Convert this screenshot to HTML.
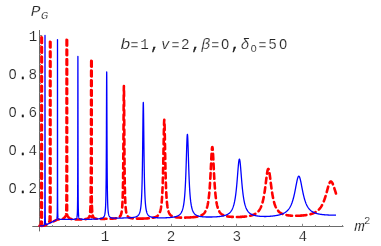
<!DOCTYPE html>
<html><head><meta charset="utf-8"><style>
html,body{margin:0;padding:0;background:#fff;}
svg{display:block;will-change:transform}
text{font-family:"Liberation Mono",monospace;fill:#262626;stroke:#fff;stroke-width:0.2px}
</style></head><body>
<svg width="381" height="246" viewBox="0 0 381 246">
<rect width="381" height="246" fill="#fff"/>
<g stroke="#6a6a6a" stroke-width="1" fill="none">
<line x1="32.3" y1="226.5" x2="343.5" y2="226.5"/>
<line x1="39.5" y1="30" x2="39.5" y2="231.4"/>
<g stroke="#888"><line x1="52.50" y1="226.5" x2="52.50" y2="225.00"/><line x1="65.50" y1="226.5" x2="65.50" y2="225.00"/><line x1="78.50" y1="226.5" x2="78.50" y2="225.00"/><line x1="92.50" y1="226.5" x2="92.50" y2="225.00"/><line x1="105.50" y1="226.5" x2="105.50" y2="223.80"/><line x1="118.50" y1="226.5" x2="118.50" y2="225.00"/><line x1="131.50" y1="226.5" x2="131.50" y2="225.00"/><line x1="144.50" y1="226.5" x2="144.50" y2="225.00"/><line x1="157.50" y1="226.5" x2="157.50" y2="225.00"/><line x1="171.50" y1="226.5" x2="171.50" y2="223.80"/><line x1="184.50" y1="226.5" x2="184.50" y2="225.00"/><line x1="197.50" y1="226.5" x2="197.50" y2="225.00"/><line x1="210.50" y1="226.5" x2="210.50" y2="225.00"/><line x1="223.50" y1="226.5" x2="223.50" y2="225.00"/><line x1="236.50" y1="226.5" x2="236.50" y2="223.80"/><line x1="250.50" y1="226.5" x2="250.50" y2="225.00"/><line x1="263.50" y1="226.5" x2="263.50" y2="225.00"/><line x1="276.50" y1="226.5" x2="276.50" y2="225.00"/><line x1="289.50" y1="226.5" x2="289.50" y2="225.00"/><line x1="302.50" y1="226.5" x2="302.50" y2="223.80"/><line x1="315.50" y1="226.5" x2="315.50" y2="225.00"/><line x1="329.50" y1="226.5" x2="329.50" y2="225.00"/><line x1="342.50" y1="226.5" x2="342.50" y2="225.00"/>
<line x1="39.5" y1="216.50" x2="41.00" y2="216.50"/><line x1="39.5" y1="207.50" x2="41.00" y2="207.50"/><line x1="39.5" y1="197.50" x2="41.00" y2="197.50"/><line x1="39.5" y1="188.50" x2="42.20" y2="188.50"/><line x1="39.5" y1="178.50" x2="41.00" y2="178.50"/><line x1="39.5" y1="169.50" x2="41.00" y2="169.50"/><line x1="39.5" y1="159.50" x2="41.00" y2="159.50"/><line x1="39.5" y1="150.50" x2="42.20" y2="150.50"/><line x1="39.5" y1="140.50" x2="41.00" y2="140.50"/><line x1="39.5" y1="131.50" x2="41.00" y2="131.50"/><line x1="39.5" y1="121.50" x2="41.00" y2="121.50"/><line x1="39.5" y1="111.50" x2="42.20" y2="111.50"/><line x1="39.5" y1="102.50" x2="41.00" y2="102.50"/><line x1="39.5" y1="92.50" x2="41.00" y2="92.50"/><line x1="39.5" y1="83.50" x2="41.00" y2="83.50"/><line x1="39.5" y1="73.50" x2="42.20" y2="73.50"/><line x1="39.5" y1="64.50" x2="41.00" y2="64.50"/><line x1="39.5" y1="54.50" x2="41.00" y2="54.50"/><line x1="39.5" y1="45.50" x2="41.00" y2="45.50"/><line x1="39.5" y1="35.50" x2="42.20" y2="35.50"/></g>
</g>
<path d="M336.00,193.53 L335.75,192.76 L335.50,191.97 L335.25,191.18 L335.00,190.39 L334.75,189.59 L334.50,188.80 L334.25,188.02 L334.00,187.26 L333.80,186.66 L333.75,186.51 L333.70,186.37 L333.65,186.22 L333.60,186.08 L333.55,185.94 L333.50,185.80 L333.45,185.66 L333.40,185.52 L333.35,185.38 L333.30,185.25 L333.25,185.11 L333.20,184.98 L333.15,184.85 L333.10,184.72 L333.05,184.60 L333.00,184.47 L332.95,184.35 L332.90,184.23 L332.85,184.11 L332.80,183.99 L332.75,183.88 L332.70,183.76 L332.65,183.65 L332.60,183.54 L332.55,183.44 L332.50,183.33 L332.45,183.23 L332.40,183.13 L332.35,183.04 L332.30,182.94 L332.25,182.85 L332.20,182.76 L332.15,182.68 L332.10,182.59 L332.05,182.51 L332.00,182.44 L331.95,182.36 L331.90,182.29 L331.85,182.22 L331.80,182.15 L331.75,182.09 L331.70,182.03 L331.65,181.97 L331.60,181.92 L331.55,181.87 L331.50,181.82 L331.45,181.78 L331.40,181.74 L331.35,181.70 L331.30,181.66 L331.25,181.63 L331.20,181.60 L331.15,181.58 L331.10,181.56 L331.05,181.54 L331.00,181.53 L330.95,181.51 L330.90,181.51 L330.85,181.50 L330.80,181.50 L330.75,181.50 L330.70,181.51 L330.65,181.52 L330.60,181.54 L330.55,181.56 L330.50,181.58 L330.45,181.61 L330.40,181.65 L330.35,181.68 L330.30,181.73 L330.25,181.77 L330.20,181.82 L330.15,181.88 L330.10,181.94 L330.05,182.00 L330.00,182.07 L329.95,182.14 L329.90,182.22 L329.85,182.30 L329.80,182.39 L329.75,182.47 L329.70,182.57 L329.65,182.66 L329.60,182.76 L329.55,182.86 L329.50,182.97 L329.45,183.08 L329.40,183.19 L329.35,183.31 L329.30,183.43 L329.25,183.55 L329.20,183.68 L329.15,183.81 L329.10,183.94 L329.05,184.07 L329.00,184.21 L328.95,184.35 L328.90,184.50 L328.85,184.64 L328.80,184.79 L328.75,184.94 L328.70,185.09 L328.65,185.25 L328.60,185.40 L328.55,185.56 L328.50,185.72 L328.45,185.89 L328.40,186.05 L328.35,186.22 L328.30,186.39 L328.25,186.56 L328.20,186.73 L328.15,186.90 L328.10,187.07 L328.05,187.25 L328.00,187.42 L327.95,187.60 L327.90,187.78 L327.85,187.96 L327.80,188.14 L327.75,188.32 L327.50,189.23 L327.25,190.15 L327.00,191.08 L326.75,192.00 L326.50,192.91 L326.25,193.80 L326.00,194.68 L325.75,195.54 L325.50,196.37 L325.25,197.18 L325.00,197.96 L324.75,198.72 L324.50,199.44 L324.25,200.14 L324.00,200.81 L323.75,201.45 L323.50,202.06 L323.25,202.65 L323.00,203.21 L322.75,203.75 L322.50,204.26 L322.25,204.75 L322.00,205.22 L321.75,205.67 L321.50,206.09 L321.25,206.50 L321.00,206.89 L320.75,207.26 L320.50,207.61 L320.25,207.94 L320.00,208.27 L319.75,208.57 L319.50,208.87 L319.25,209.15 L319.00,209.42 L318.75,209.67 L318.50,209.92 L318.25,210.15 L318.00,210.38 L317.75,210.59 L317.50,210.80 L317.25,210.99 L317.00,211.18 L316.75,211.36 L316.50,211.54 L316.25,211.70 L316.00,211.86 L315.75,212.02 L315.50,212.16 L315.25,212.30 L315.00,212.44 L314.75,212.57 L314.50,212.70 L314.25,212.82 L314.00,212.93 L313.75,213.05 L313.50,213.15 L313.25,213.26 L313.00,213.36 L312.75,213.45 L312.50,213.55 L312.25,213.64 L312.00,213.72 L311.75,213.81 L311.50,213.89 L311.25,213.96 L311.00,214.04 L310.75,214.11 L310.50,214.18 L310.25,214.25 L310.00,214.31 L309.75,214.38 L309.50,214.44 L309.25,214.50 L309.00,214.55 L308.75,214.61 L308.50,214.66 L308.25,214.71 L308.00,214.76 L307.75,214.81 L307.50,214.85 L307.25,214.90 L307.00,214.94 L306.75,214.98 L306.50,215.02 L306.25,215.06 L306.00,215.10 L305.75,215.14 L305.50,215.17 L305.25,215.21 L305.00,215.24 L304.75,215.27 L304.50,215.30 L304.25,215.33 L304.00,215.36 L303.75,215.39 L303.50,215.41 L303.25,215.44 L303.00,215.46 L302.75,215.48 L302.50,215.51 L302.25,215.53 L302.00,215.55 M301.75,215.57 L301.50,215.59 L301.25,215.61 L301.00,215.62 L300.75,215.64 L300.50,215.65 L300.25,215.67 L300.00,215.68 L299.75,215.70 L299.50,215.71 L299.25,215.72 L299.00,215.73 L298.75,215.74 L298.50,215.75 L298.25,215.76 L298.00,215.77 L297.75,215.78 L297.50,215.78 L297.25,215.79 L297.00,215.79 L296.75,215.80 L296.50,215.80 L296.25,215.80 L296.00,215.80 L295.75,215.80 L295.50,215.80 L295.25,215.80 L295.00,215.80 L294.75,215.80 L294.50,215.79 L294.25,215.79 L294.00,215.79 L293.75,215.78 L293.50,215.77 L293.25,215.76 L293.00,215.76 L292.75,215.75 L292.50,215.74 L292.25,215.72 L292.00,215.71 L291.75,215.70 L291.50,215.68 L291.25,215.67 L291.00,215.65 L290.75,215.63 L290.50,215.61 L290.25,215.59 L290.00,215.57 L289.75,215.55 L289.50,215.52 L289.25,215.50 L289.00,215.47 L288.75,215.44 L288.50,215.41 L288.25,215.38 L288.00,215.35 L287.75,215.31 L287.50,215.27 L287.25,215.23 L287.00,215.19 L286.75,215.15 L286.50,215.10 L286.25,215.05 L286.00,215.00 L285.75,214.95 L285.50,214.90 L285.25,214.84 L285.00,214.78 L284.75,214.71 L284.50,214.64 L284.25,214.57 L284.00,214.50 L283.75,214.42 L283.50,214.33 L283.25,214.25 L283.00,214.15 L282.75,214.06 L282.50,213.95 L282.25,213.85 L282.00,213.73 L281.75,213.61 L281.50,213.49 L281.25,213.35 L281.00,213.21 L280.75,213.06 L280.50,212.90 L280.25,212.74 L280.00,212.56 L279.75,212.37 L279.50,212.17 L279.25,211.96 L279.00,211.74 L278.75,211.50 L278.50,211.25 L278.25,210.98 L278.00,210.69 L277.75,210.38 L277.50,210.05 L277.25,209.70 L277.00,209.33 L276.75,208.93 L276.50,208.50 L276.25,208.04 L276.00,207.54 L275.75,207.01 L275.50,206.44 L275.25,205.83 L275.00,205.17 L274.75,204.45 L274.50,203.69 L274.25,202.86 L274.00,201.96 L273.75,201.00 L273.50,199.96 L273.25,198.84 L273.00,197.63 L272.75,196.33 L272.50,194.94 L272.25,193.45 L272.00,191.86 L271.75,190.17 L271.50,188.39 L271.30,186.90 L271.25,186.52 L271.20,186.14 L271.15,185.75 L271.10,185.36 L271.05,184.97 L271.00,184.58 L270.95,184.19 L270.90,183.79 L270.85,183.39 L270.80,182.99 L270.75,182.59 L270.70,182.19 L270.65,181.78 L270.60,181.38 L270.55,180.97 L270.50,180.57 L270.45,180.17 L270.40,179.76 L270.35,179.36 L270.30,178.96 L270.25,178.56 L270.20,178.17 L270.15,177.77 L270.10,177.38 L270.05,176.99 L270.00,176.61 L269.95,176.23 L269.90,175.85 L269.85,175.48 L269.80,175.12 L269.75,174.76 L269.70,174.41 L269.65,174.06 L269.60,173.72 L269.55,173.39 L269.50,173.07 L269.45,172.75 L269.40,172.45 L269.35,172.15 L269.30,171.87 L269.25,171.60 L269.20,171.33 L269.15,171.08 L269.10,170.84 L269.05,170.61 L269.00,170.40 L268.95,170.20 L268.90,170.01 L268.85,169.83 L268.80,169.67 L268.75,169.53 L268.70,169.40 L268.65,169.28 L268.60,169.18 L268.55,169.09 L268.50,169.02 L268.45,168.97 L268.40,168.93 L268.35,168.91 L268.30,168.90 L268.25,168.91 L268.20,168.93 L268.15,168.97 L268.10,169.03 L268.05,169.10 L268.00,169.19 L267.95,169.29 L267.90,169.41 L267.85,169.54 L267.80,169.69 L267.75,169.85 L267.70,170.03 L267.65,170.22 L267.60,170.42 L267.55,170.64 L267.50,170.87 L267.45,171.11 L267.40,171.36 L267.35,171.63 L267.30,171.90 L267.25,172.19 L267.20,172.49 L267.15,172.79 L267.10,173.11 L267.05,173.43 L267.00,173.77 L266.95,174.11 L266.90,174.45 L266.85,174.81 L266.80,175.17 L266.75,175.54 L266.70,175.91 L266.65,176.29 L266.60,176.67 L266.55,177.05 L266.50,177.44 L266.45,177.84 L266.40,178.23 L266.35,178.63 L266.30,179.03 L266.25,179.43 L266.20,179.84 L266.15,180.24 L266.10,180.65 L266.05,181.05 L266.00,181.46 L265.95,181.86 L265.90,182.27 L265.85,182.67 L265.80,183.07 L265.75,183.48 L265.70,183.88 L265.65,184.28 L265.60,184.67 L265.55,185.07 L265.50,185.46 L265.45,185.85 L265.40,186.24 L265.35,186.62 L265.30,187.00 L265.25,187.38 L265.00,189.22 L264.75,190.98 L264.50,192.64 L264.25,194.20 L264.00,195.66 L263.75,197.02 L263.50,198.29 L263.25,199.47 L263.00,200.57 L262.75,201.58 L262.50,202.53 L262.25,203.40 L262.00,204.21 L261.75,204.97 L261.50,205.67 L261.25,206.32 L261.00,206.93 L260.75,207.49 L260.50,208.01 L260.25,208.50 L260.00,208.96 L259.75,209.39 L259.50,209.78 L259.25,210.16 L259.00,210.51 L258.75,210.84 L258.50,211.14 L258.25,211.43 L258.00,211.71 L257.75,211.96 L257.50,212.20 L257.25,212.43 L257.00,212.65 L256.75,212.85 L256.50,213.04 L256.25,213.22 L256.00,213.40 L255.75,213.56 L255.50,213.72 L255.25,213.86 L255.00,214.00 L254.75,214.14 L254.50,214.26 L254.25,214.38 L254.00,214.50 L253.75,214.61 L253.50,214.71 L253.25,214.81 L253.00,214.91 L252.75,215.00 L252.50,215.09 L252.25,215.17 L252.00,215.25 L251.75,215.33 L251.50,215.40 L251.25,215.47 L251.00,215.54 L250.75,215.60 L250.50,215.67 L250.25,215.73 L250.00,215.78 L249.75,215.84 L249.50,215.89 L249.25,215.94 L249.00,215.99 L248.75,216.04 L248.50,216.08 L248.25,216.13 L248.00,216.17 L247.75,216.21 L247.50,216.25 L247.25,216.29 L247.00,216.32 L246.75,216.36 L246.50,216.39 L246.25,216.43 L246.00,216.46 L245.75,216.49 L245.50,216.52 L245.25,216.54 L245.00,216.57 L244.75,216.60 L244.50,216.62 L244.25,216.65 L244.00,216.67 L243.75,216.69 L243.50,216.71 L243.25,216.73 L243.00,216.75 L242.75,216.77 M242.50,216.79 L242.25,216.81 L242.00,216.82 L241.75,216.84 L241.50,216.85 L241.25,216.87 L241.00,216.88 L240.75,216.90 L240.50,216.91 L240.25,216.92 L240.00,216.93 L239.75,216.94 L239.50,216.95 L239.25,216.96 L239.00,216.97 L238.75,216.98 L238.50,216.99 L238.25,216.99 L238.00,217.00 L237.75,217.00 L237.50,217.00 L237.25,217.01 L237.00,217.01 L236.75,217.01 L236.50,217.01 L236.25,217.01 L236.00,217.01 L235.75,217.00 L235.50,217.00 L235.25,217.00 L235.00,216.99 L234.75,216.99 L234.50,216.98 L234.25,216.98 L234.00,216.97 L233.75,216.96 L233.50,216.95 L233.25,216.94 L233.00,216.93 L232.75,216.92 L232.50,216.91 L232.25,216.90 L232.00,216.88 L231.75,216.87 L231.50,216.85 L231.25,216.84 L231.00,216.82 L230.75,216.80 L230.50,216.78 L230.25,216.76 L230.00,216.73 L229.75,216.71 L229.50,216.68 L229.25,216.65 L229.00,216.62 L228.75,216.59 L228.50,216.56 L228.25,216.52 L228.00,216.49 L227.75,216.45 L227.50,216.41 L227.25,216.36 L227.00,216.32 L226.75,216.27 L226.50,216.22 L226.25,216.16 L226.00,216.10 L225.75,216.04 L225.50,215.97 L225.25,215.90 L225.00,215.83 L224.75,215.75 L224.50,215.67 L224.25,215.58 L224.00,215.48 L223.75,215.38 L223.50,215.27 L223.25,215.15 L223.00,215.03 L222.75,214.89 L222.50,214.75 L222.25,214.60 L222.00,214.43 L221.75,214.25 L221.50,214.06 L221.25,213.85 L221.00,213.63 L220.75,213.39 L220.50,213.12 L220.25,212.83 L220.00,212.52 L219.75,212.18 L219.50,211.80 L219.25,211.39 L219.00,210.94 L218.75,210.44 L218.50,209.89 L218.25,209.28 L218.00,208.60 L217.75,207.84 L217.50,206.99 L217.25,206.04 L217.00,204.97 L216.75,203.76 L216.50,202.40 L216.25,200.85 L216.00,199.08 L215.75,197.08 L215.50,194.78 L215.30,192.72 L215.25,192.17 L215.20,191.60 L215.15,191.02 L215.10,190.43 L215.05,189.82 L215.00,189.19 L214.95,188.55 L214.90,187.89 L214.85,187.21 L214.80,186.52 L214.75,185.81 L214.70,185.08 L214.65,184.33 L214.60,183.57 L214.55,182.79 L214.50,181.99 L214.45,181.17 L214.40,180.34 L214.35,179.49 L214.30,178.62 L214.25,177.73 L214.20,176.83 L214.15,175.91 L214.10,174.98 L214.05,174.03 L214.00,173.06 L213.95,172.08 L213.90,171.09 L213.85,170.09 L213.80,169.08 L213.75,168.06 L213.70,167.04 L213.65,166.01 L213.60,164.98 L213.55,163.94 L213.50,162.91 L213.45,161.88 L213.40,160.86 L213.35,159.86 L213.30,158.86 L213.25,157.88 L213.20,156.92 L213.15,155.98 L213.10,155.07 L213.05,154.19 L213.00,153.35 L212.95,152.54 L212.90,151.78 L212.85,151.06 L212.80,150.39 L212.75,149.77 L212.70,149.20 L212.65,148.70 L212.60,148.26 L212.55,147.88 L212.50,147.56 L212.45,147.32 L212.40,147.14 L212.35,147.03 L212.30,147.00 L212.25,147.03 L212.20,147.14 L212.15,147.32 L212.10,147.57 L212.05,147.88 L212.00,148.26 L211.95,148.70 L211.90,149.21 L211.85,149.77 L211.80,150.39 L211.75,151.07 L211.70,151.79 L211.65,152.55 L211.60,153.36 L211.55,154.21 L211.50,155.09 L211.45,156.00 L211.40,156.93 L211.35,157.89 L211.30,158.87 L211.25,159.87 L211.20,160.88 L211.15,161.90 L211.10,162.93 L211.05,163.96 L211.00,164.99 L210.95,166.03 L210.90,167.06 L210.85,168.09 L210.80,169.10 L210.75,170.12 L210.70,171.12 L210.65,172.11 L210.60,173.09 L210.55,174.05 L210.50,175.00 L210.45,175.94 L210.40,176.86 L210.35,177.76 L210.30,178.65 L210.25,179.52 L210.20,180.37 L210.15,181.21 L210.10,182.02 L210.05,182.82 L210.00,183.61 L209.95,184.37 L209.90,185.12 L209.85,185.84 L209.80,186.56 L209.75,187.25 L209.70,187.93 L209.65,188.59 L209.60,189.23 L209.55,189.86 L209.50,190.47 L209.45,191.07 L209.40,191.65 L209.35,192.21 L209.30,192.77 L209.25,193.30 L209.00,195.79 L208.75,197.97 L208.50,199.88 L208.25,201.55 L208.00,203.03 L207.75,204.33 L207.50,205.49 L207.25,206.51 L207.00,207.42 L206.75,208.24 L206.50,208.97 L206.25,209.62 L206.00,210.21 L205.75,210.75 L205.50,211.23 L205.25,211.67 L205.00,212.07 L204.75,212.44 L204.50,212.77 L204.25,213.08 L204.00,213.36 L203.75,213.62 L203.50,213.86 L203.25,214.08 L203.00,214.29 L202.75,214.48 L202.50,214.66 L202.25,214.82 L202.00,214.97 L201.75,215.12 L201.50,215.25 L201.25,215.38 L201.00,215.50 L200.75,215.61 L200.50,215.71 L200.25,215.81 L200.00,215.90 L199.75,215.99 L199.50,216.07 L199.25,216.15 L199.00,216.22 L198.75,216.29 L198.50,216.35 L198.25,216.42 L198.00,216.48 L197.75,216.53 L197.50,216.59 L197.25,216.64 L197.00,216.68 L196.75,216.73 L196.50,216.77 L196.25,216.81 L196.00,216.85 L195.75,216.89 L195.50,216.93 L195.25,216.96 L195.00,216.99 L194.75,217.03 L194.50,217.06 L194.25,217.08 L194.00,217.11 L193.75,217.14 L193.50,217.16 L193.25,217.19 L193.00,217.21 L192.75,217.23 L192.50,217.25 L192.25,217.27 L192.00,217.29 L191.75,217.31 L191.50,217.33 L191.25,217.34 L191.00,217.36 M190.75,217.37 L190.50,217.39 L190.25,217.40 L190.00,217.42 L189.75,217.43 L189.50,217.44 L189.25,217.45 L189.00,217.46 L188.75,217.47 L188.50,217.48 L188.25,217.49 L188.00,217.50 L187.75,217.51 L187.50,217.52 L187.25,217.53 L187.00,217.54 L186.75,217.55 L186.50,217.56 L186.25,217.57 L186.00,217.57 L185.75,217.58 L185.50,217.59 L185.25,217.59 L185.00,217.60 L184.75,217.60 L184.50,217.61 L184.25,217.61 L184.00,217.62 L183.75,217.62 L183.50,217.62 L183.25,217.62 L183.00,217.63 L182.75,217.63 L182.50,217.63 L182.25,217.63 L182.00,217.62 L181.75,217.62 L181.50,217.62 L181.25,217.62 L181.00,217.61 L180.75,217.61 L180.50,217.60 L180.25,217.60 L180.00,217.59 L179.75,217.58 L179.50,217.57 L179.25,217.56 L179.00,217.55 L178.75,217.54 L178.50,217.52 L178.25,217.51 L178.00,217.49 L177.75,217.47 L177.50,217.45 L177.25,217.43 L177.00,217.41 L176.75,217.38 L176.50,217.36 L176.25,217.33 L176.00,217.30 L175.75,217.26 L175.50,217.22 L175.25,217.18 L175.00,217.14 L174.75,217.09 L174.50,217.04 L174.25,216.98 L174.00,216.92 L173.75,216.85 L173.50,216.78 L173.25,216.70 L173.00,216.61 L172.75,216.52 L172.50,216.41 L172.25,216.30 L172.00,216.17 L171.75,216.03 L171.50,215.87 L171.25,215.70 L171.00,215.51 L170.75,215.29 L170.50,215.05 L170.25,214.78 L170.00,214.47 L169.75,214.12 L169.50,213.72 L169.25,213.26 L169.00,212.73 L168.75,212.12 L168.50,211.41 L168.25,210.56 L168.00,209.56 L167.75,208.37 L167.50,206.92 L167.30,205.54 L167.25,205.16 L167.20,204.76 L167.15,204.35 L167.10,203.91 L167.05,203.46 L167.00,202.99 L166.95,202.50 L166.90,201.98 L166.85,201.44 L166.80,200.87 L166.75,200.28 L166.70,199.66 L166.65,199.01 L166.60,198.33 L166.55,197.62 L166.50,196.87 L166.45,196.08 L166.40,195.26 L166.35,194.39 L166.30,193.48 L166.25,192.52 L166.20,191.52 L166.15,190.46 L166.10,189.35 L166.05,188.18 L166.00,186.94 L165.95,185.65 L165.90,184.29 L165.85,182.85 L165.80,181.35 L165.75,179.76 L165.70,178.10 L165.65,176.35 L165.60,174.52 L165.55,172.60 L165.50,170.59 L165.45,168.49 L165.40,166.30 L165.35,164.02 L165.30,161.65 L165.25,159.20 L165.20,156.67 L165.15,154.07 L165.10,151.41 L165.05,148.70 L165.00,145.96 L164.95,143.21 L164.90,140.47 L164.85,137.77 L164.80,135.14 L164.75,132.60 L164.70,130.20 L164.65,127.96 L164.60,125.93 L164.55,124.14 L164.50,122.62 L164.45,121.40 L164.40,120.52 L164.35,119.98 L164.30,119.80 L164.25,119.98 L164.20,120.52 L164.15,121.41 L164.10,122.63 L164.05,124.15 L164.00,125.94 L163.95,127.97 L163.90,130.21 L163.85,132.62 L163.80,135.16 L163.75,137.80 L163.70,140.50 L163.65,143.24 L163.60,145.99 L163.55,148.73 L163.50,151.44 L163.45,154.11 L163.40,156.71 L163.35,159.24 L163.30,161.69 L163.25,164.07 L163.20,166.35 L163.15,168.54 L163.10,170.64 L163.05,172.66 L163.00,174.58 L162.95,176.41 L162.90,178.16 L162.85,179.83 L162.80,181.41 L162.75,182.92 L162.70,184.35 L162.65,185.72 L162.60,187.02 L162.55,188.25 L162.50,189.42 L162.45,190.54 L162.40,191.60 L162.35,192.61 L162.30,193.56 L162.25,194.48 L162.20,195.35 L162.15,196.17 L162.10,196.96 L162.05,197.71 L162.00,198.43 L161.95,199.11 L161.90,199.76 L161.85,200.39 L161.80,200.98 L161.75,201.55 L161.70,202.09 L161.65,202.61 L161.60,203.10 L161.55,203.58 L161.50,204.03 L161.45,204.47 L161.40,204.89 L161.35,205.29 L161.30,205.67 L161.25,206.04 L161.00,207.67 L160.75,209.02 L160.50,210.15 L160.25,211.09 L160.00,211.89 L159.75,212.57 L159.50,213.16 L159.25,213.67 L159.00,214.11 L158.75,214.50 L158.50,214.84 L158.25,215.15 L158.00,215.42 L157.75,215.66 L157.50,215.88 L157.25,216.07 L157.00,216.25 L156.75,216.41 L156.50,216.55 L156.25,216.69 L156.00,216.81 L155.75,216.92 L155.50,217.03 L155.25,217.12 L155.00,217.21 L154.75,217.29 L154.50,217.37 L154.25,217.44 L154.00,217.51 L153.75,217.57 L153.50,217.62 L153.25,217.68 L153.00,217.73 L152.75,217.78 L152.50,217.82 L152.25,217.87 L152.00,217.91 L151.75,217.94 L151.50,217.98 L151.25,218.01 L151.00,218.05 L150.75,218.08 L150.50,218.11 L150.25,218.14 L150.00,218.16 L149.75,218.19 L149.50,218.21 L149.25,218.24 L149.00,218.26 L148.75,218.28 L148.50,218.30 L148.25,218.32 L148.00,218.34 L147.75,218.36 L147.50,218.37 L147.25,218.39 L147.00,218.41 L146.75,218.42 L146.50,218.44 L146.25,218.45 L146.00,218.46 L145.75,218.48 L145.50,218.49 L145.25,218.50 L145.00,218.51 L144.75,218.53 L144.50,218.54 L144.25,218.55 L144.00,218.56 L143.75,218.57 L143.50,218.58 L143.25,218.59 L143.00,218.59 L142.75,218.60 M142.50,218.60 L142.25,218.61 L142.00,218.61 L141.75,218.61 L141.50,218.62 L141.25,218.62 L141.00,218.62 L140.75,218.62 L140.50,218.62 L140.25,218.62 L140.00,218.62 L139.75,218.62 L139.50,218.62 L139.25,218.62 L139.00,218.62 L138.75,218.62 L138.50,218.62 L138.25,218.62 L138.00,218.61 L137.75,218.61 L137.50,218.61 L137.25,218.60 L137.00,218.60 L136.75,218.59 L136.50,218.59 L136.25,218.58 L136.00,218.57 L135.75,218.56 L135.50,218.56 L135.25,218.55 L135.00,218.54 L134.75,218.52 L134.50,218.51 L134.25,218.50 L134.00,218.48 L133.75,218.47 L133.50,218.45 L133.25,218.43 L133.00,218.41 L132.75,218.38 L132.50,218.36 L132.25,218.33 L132.00,218.30 L131.75,218.26 L131.50,218.22 L131.25,218.18 L131.00,218.13 L130.75,218.08 L130.50,218.02 L130.25,217.95 L130.00,217.87 L129.75,217.79 L129.50,217.69 L129.25,217.58 L129.00,217.45 L128.75,217.30 L128.50,217.13 L128.25,216.93 L128.00,216.68 L127.75,216.39 L127.50,216.04 L127.25,215.61 L127.00,215.08 L126.90,214.83 L126.85,214.70 L126.80,214.55 L126.75,214.41 L126.70,214.25 L126.65,214.09 L126.60,213.91 L126.55,213.73 L126.50,213.54 L126.45,213.33 L126.40,213.12 L126.35,212.89 L126.30,212.65 L126.25,212.40 L126.20,212.13 L126.15,211.84 L126.10,211.53 L126.05,211.20 L126.00,210.86 L125.95,210.48 L125.90,210.09 L125.85,209.66 L125.80,209.20 L125.75,208.71 L125.70,208.19 L125.65,207.62 L125.60,207.00 L125.55,206.34 L125.50,205.62 L125.45,204.85 L125.40,204.00 L125.35,203.08 L125.30,202.07 L125.25,200.98 L125.20,199.77 L125.15,198.45 L125.10,197.00 L125.05,195.40 L125.00,193.63 L124.95,191.67 L124.90,189.49 L124.85,187.08 L124.80,184.39 L124.75,181.39 L124.70,178.04 L124.65,174.30 L124.60,170.12 L124.55,165.46 L124.50,160.27 L124.45,154.53 L124.40,148.20 L124.35,141.30 L124.30,133.87 L124.25,126.03 L124.20,117.96 L124.15,109.95 L124.10,102.39 L124.05,95.74 L124.00,90.51 L123.95,87.15 L123.90,85.99 L123.85,87.15 L123.80,90.51 L123.75,95.74 L123.70,102.39 L123.65,109.95 L123.60,117.96 L123.55,126.03 L123.50,133.87 L123.45,141.30 L123.40,148.20 L123.35,154.53 L123.30,160.28 L123.25,165.46 L123.20,170.12 L123.15,174.30 L123.10,178.04 L123.05,181.39 L123.00,184.39 L122.95,187.08 L122.90,189.50 L122.85,191.67 L122.80,193.63 L122.75,195.40 L122.70,197.01 L122.65,198.46 L122.60,199.78 L122.55,200.98 L122.50,202.08 L122.45,203.09 L122.40,204.01 L122.35,204.85 L122.30,205.63 L122.25,206.35 L122.20,207.01 L122.15,207.63 L122.10,208.20 L122.05,208.72 L122.00,209.21 L121.95,209.67 L121.90,210.10 L121.85,210.50 L121.80,210.87 L121.75,211.22 L121.70,211.54 L121.65,211.85 L121.60,212.14 L121.55,212.41 L121.50,212.67 L121.45,212.91 L121.40,213.13 L121.35,213.35 L121.30,213.55 L121.25,213.75 L121.20,213.93 L121.15,214.10 L121.10,214.27 L121.05,214.42 L121.00,214.57 L120.95,214.71 L120.90,214.85 L120.75,215.22 L120.50,215.73 L120.25,216.14 L120.00,216.48 L119.75,216.76 L119.50,217.00 L119.25,217.19 L119.00,217.36 L118.75,217.51 L118.50,217.64 L118.25,217.75 L118.00,217.84 L117.75,217.93 L117.50,218.00 L117.25,218.07 L117.00,218.13 L116.75,218.18 L116.50,218.23 L116.25,218.28 L116.00,218.32 L115.75,218.35 L115.50,218.39 L115.25,218.42 L115.00,218.44 L114.75,218.47 L114.50,218.49 L114.25,218.51 L114.00,218.53 L113.75,218.55 L113.50,218.57 L113.25,218.59 L113.00,218.60 L112.75,218.61 L112.50,218.63 L112.25,218.64 L112.00,218.65 L111.75,218.66 L111.50,218.67 L111.25,218.68 L111.00,218.69 L110.75,218.69 L110.50,218.70 L110.25,218.71 L110.00,218.72 L109.75,218.72 L109.50,218.73 L109.25,218.73 L109.00,218.74 L108.75,218.74 L108.50,218.75 L108.25,218.75 L108.00,218.75 L107.75,218.76 L107.50,218.76 L107.25,218.76 L107.00,218.76 L106.75,218.77 L106.50,218.78 L106.25,218.79 L106.00,218.80 L105.75,218.81 L105.50,218.82 L105.25,218.82 L105.00,218.83 L104.75,218.84 L104.50,218.84 L104.25,218.85 L104.00,218.86 L103.75,218.86 L103.50,218.87 L103.25,218.88 L103.00,218.88 L102.75,218.89 L102.50,218.89 L102.25,218.90 L102.00,218.90 L101.75,218.90 L101.50,218.91 L101.25,218.91 L101.00,218.91 L100.75,218.91 L100.50,218.91 L100.25,218.91 L100.00,218.91 L99.75,218.91 L99.50,218.91 L99.25,218.91 L99.00,218.90 L98.75,218.90 L98.50,218.89 L98.25,218.88 L98.00,218.87 L97.75,218.86 L97.50,218.84 L97.25,218.82 L97.00,218.80 L96.75,218.78 L96.50,218.75 L96.25,218.71 L96.00,218.67 L95.75,218.62 L95.50,218.57 L95.25,218.50 L95.00,218.41 L94.75,218.31 L94.50,218.18 L94.25,218.03 L94.20,217.99 L94.15,217.95 L94.10,217.91 L94.05,217.87 L94.00,217.83 L93.95,217.78 L93.90,217.73 L93.85,217.68 L93.80,217.63 L93.75,217.58 L93.70,217.52 L93.65,217.46 L93.60,217.39 L93.55,217.32 L93.50,217.25 L93.45,217.17 L93.40,217.09 L93.35,217.00 L93.30,216.91 L93.25,216.81 L93.20,216.71 L93.15,216.60 L93.10,216.48 L93.05,216.35 L93.00,216.21 L92.95,216.07 L92.90,215.91 L92.85,215.74 L92.80,215.56 L92.75,215.36 L92.70,215.14 L92.65,214.91 L92.60,214.65 L92.55,214.37 L92.50,214.07 L92.45,213.73 L92.40,213.35 L92.35,212.93 L92.30,212.46 L92.25,211.94 L92.20,211.34 L92.15,210.66 L92.10,209.88 L92.05,208.98 L92.00,207.93 L91.95,206.69 L91.90,205.22 L91.85,203.45 L91.80,201.29 L91.75,198.62 L91.70,195.28 L91.65,191.03 M91.20,60.91 L91.15,70.06 L91.10,92.03 L91.05,116.94 L91.00,138.74 L90.95,155.84 L90.90,168.72 L90.85,178.33 L90.80,185.55 L90.75,191.05 L90.70,195.31 L90.65,198.65 L90.60,201.32 L90.55,203.48 L90.50,205.26 L90.45,206.73 L90.40,207.97 L90.35,209.03 L90.30,209.93 L90.25,210.71 L90.20,211.39 L90.15,211.99 L90.10,212.52 L90.05,212.99 L90.00,213.42 L89.95,213.79 L89.90,214.14 L89.85,214.45 L89.80,214.73 L89.75,214.99 L89.70,215.23 L89.65,215.44 L89.60,215.64 L89.55,215.83 L89.50,216.00 L89.45,216.16 L89.40,216.31 L89.35,216.45 L89.30,216.58 L89.25,216.70 L89.20,216.82 L89.15,216.92 L89.10,217.02 L89.05,217.12 L89.00,217.21 L88.95,217.29 L88.90,217.37 L88.85,217.45 L88.80,217.52 L88.75,217.59 L88.70,217.65 L88.65,217.72 L88.60,217.77 L88.55,217.83 L88.50,217.88 L88.45,217.93 L88.40,217.98 L88.35,218.03 L88.30,218.07 L88.25,218.11 L88.20,218.15 L88.00,218.30 L87.75,218.45 L87.50,218.57 L87.25,218.68 L87.00,218.77 L86.75,218.84 L86.50,218.91 L86.25,218.97 L86.00,219.02 L85.75,219.06 L85.50,219.10 L85.25,219.14 L85.00,219.17 L84.75,219.20 L84.50,219.23 L84.25,219.25 L84.00,219.28 L83.75,219.30 L83.50,219.32 L83.25,219.33 L83.00,219.35 L82.75,219.37 L82.50,219.38 L82.25,219.40 L82.00,219.41 L81.75,219.42 L81.50,219.43 L81.25,219.44 L81.00,219.45 L80.75,219.46 L80.50,219.47 L80.25,219.48 L80.00,219.49 L79.75,219.50 L79.50,219.50 L79.25,219.51 L79.00,219.52 L78.75,219.52 L78.50,219.53 L78.25,219.53 L78.00,219.54 L77.75,219.53 L77.50,219.53 L77.25,219.53 L77.00,219.52 L76.75,219.52 L76.50,219.51 L76.25,219.50 L76.00,219.50 L75.75,219.49 L75.50,219.48 L75.25,219.47 L75.00,219.46 L74.75,219.44 L74.50,219.43 L74.25,219.42 L74.00,219.40 L73.75,219.38 L73.50,219.36 L73.25,219.34 L73.00,219.31 L72.75,219.28 L72.50,219.25 L72.25,219.22 L72.00,219.18 L71.75,219.13 L71.50,219.08 L71.25,219.02 L71.00,218.96 L70.75,218.88 L70.50,218.80 L70.25,218.70 L70.00,218.58 L69.75,218.45 L69.60,218.35 L69.55,218.32 L69.50,218.29 L69.45,218.25 L69.40,218.22 L69.35,218.18 L69.30,218.15 L69.25,218.11 L69.20,218.07 L69.15,218.03 L69.10,217.98 L69.05,217.94 L69.00,217.89 L68.95,217.85 L68.90,217.80 L68.85,217.75 L68.80,217.70 L68.75,217.64 L68.70,217.59 L68.65,217.53 L68.60,217.47 L68.55,217.41 L68.50,217.35 L68.45,217.29 L68.40,217.22 L68.35,217.15 L68.30,217.08 L68.25,217.01 L68.20,216.94 L68.15,216.86 L68.10,216.78 L68.05,216.70 L68.00,216.62 L67.95,216.53 L67.90,216.44 L67.85,216.35 L67.80,216.25 L67.75,216.15 L67.70,216.04 L67.65,215.93 L67.60,215.82 L67.55,215.69 L67.50,215.56 L67.45,215.42 L67.40,215.26 L67.35,215.09 L67.30,214.89 L67.25,214.66 L67.20,214.39 L67.15,214.07 L67.10,213.66 L67.05,213.13 L67.00,212.41 M66.60,39.79 L66.55,119.37 L66.50,174.76 L66.45,194.73 L66.40,203.21 L66.35,207.47 L66.30,209.89 L66.25,211.40 L66.20,212.41 L66.15,213.13 L66.10,213.66 L66.05,214.07 L66.00,214.39 L65.95,214.66 L65.90,214.89 L65.85,215.09 L65.80,215.26 L65.75,215.42 L65.70,215.56 L65.65,215.69 L65.60,215.82 L65.55,215.94 L65.50,216.05 L65.45,216.15 L65.40,216.25 L65.35,216.35 L65.30,216.44 L65.25,216.53 L65.20,216.62 L65.15,216.70 L65.10,216.78 L65.05,216.86 L65.00,216.94 L64.95,217.01 L64.90,217.09 L64.85,217.16 L64.80,217.22 L64.75,217.29 L64.70,217.35 L64.65,217.42 L64.60,217.48 L64.55,217.53 L64.50,217.59 L64.45,217.65 L64.40,217.70 L64.35,217.75 L64.30,217.80 L64.25,217.85 L64.20,217.90 L64.15,217.94 L64.10,217.98 L64.05,218.03 L64.00,218.07 L63.95,218.11 L63.90,218.15 L63.85,218.19 L63.80,218.22 L63.75,218.26 L63.70,218.29 L63.65,218.33 L63.60,218.36 L63.50,218.42 L63.25,218.56 L63.00,218.68 L62.75,218.78 L62.50,218.87 L62.25,218.95 L62.00,219.02 L61.75,219.07 L61.50,219.13 L61.25,219.17 L61.00,219.22 L60.75,219.25 L60.50,219.28 L60.25,219.31 L60.00,219.34 L59.75,219.36 L59.50,219.39 L59.25,219.41 L59.00,219.42 L58.75,219.44 L58.50,219.45 L58.25,219.47 L58.00,219.48 L57.75,219.49 L57.50,219.50 L57.25,219.63 L57.00,219.75 L56.75,219.87 L56.50,219.99 L56.25,220.12 L56.00,220.24 L55.75,220.36 L55.50,220.48 L55.25,220.60 L55.00,220.71 L54.75,220.83 L54.50,220.95 L54.25,221.07 L54.00,221.18 L53.75,221.30 L53.50,221.41 L53.25,221.52 L53.00,221.63 L52.95,221.66 L52.90,221.68 L52.85,221.70 L52.80,221.72 L52.75,221.74 L52.70,221.76 L52.65,221.79 L52.60,221.81 L52.55,221.83 L52.50,221.85 L52.45,221.87 L52.40,221.89 L52.35,221.91 L52.30,221.93 L52.25,221.95 L52.20,221.97 L52.15,221.99 L52.10,222.01 L52.05,222.02 L52.00,222.04 L51.95,222.06 L51.90,222.08 L51.85,222.09 L51.80,222.11 L51.75,222.13 L51.70,222.14 L51.65,222.15 L51.60,222.17 L51.55,222.18 L51.50,222.19 L51.45,222.20 L51.40,222.21 L51.35,222.21 L51.30,222.22 L51.25,222.22 L51.20,222.22 L51.15,222.21 L51.10,222.20 L51.05,222.19 L51.00,222.17 L50.95,222.15 L50.90,222.11 L50.85,222.07 L50.80,222.01 L50.75,221.94 L50.70,221.84 L50.65,221.72 L50.60,221.56 L50.55,221.35 L50.50,221.06 L50.45,220.67 M50.00,41.74 L49.95,132.44 L49.90,186.87 L49.85,205.02 L49.80,212.52 L49.75,216.23 L49.70,218.33 L49.65,219.63 L49.60,220.49 L49.55,221.09 L49.50,221.53 L49.45,221.86 L49.40,222.12 L49.35,222.33 L49.30,222.50 L49.25,222.64 L49.20,222.76 L49.15,222.86 L49.10,222.95 L49.05,223.03 L49.00,223.10 L48.95,223.17 L48.90,223.23 L48.85,223.28 L48.80,223.33 L48.75,223.38 L48.70,223.43 L48.65,223.47 L48.60,223.51 L48.55,223.55 L48.50,223.59 L48.45,223.62 L48.40,223.66 L48.35,223.69 L48.30,223.72 L48.25,223.75 L48.20,223.79 L48.15,223.82 L48.10,223.85 L48.05,223.88 L48.00,223.90 L47.95,223.93 L47.90,223.96 L47.85,223.99 L47.80,224.02 L47.75,224.04 L47.70,224.07 L47.65,224.10 L47.60,224.12 L47.55,224.15 L47.50,224.18 L47.45,224.20 L47.40,224.23 L47.35,224.25 L47.30,224.28 L47.25,224.30 L47.20,224.33 L47.15,224.35 L47.10,224.38 L47.05,224.40 L47.00,224.43 L46.75,224.55 L46.50,224.67 L46.25,224.79 L46.00,224.91 L45.75,225.02 L45.50,225.14 L45.25,225.25 L45.00,225.37 L44.75,225.48 L44.50,225.59 L44.40,225.63 L44.35,225.65 L44.30,225.67 L44.25,225.69 L44.20,225.72 L44.15,225.74 L44.10,225.76 L44.05,225.78 L44.00,225.80 L43.95,225.80 L43.90,225.80 L43.85,225.79 L43.80,225.79 L43.75,225.79 L43.70,225.78 L43.65,225.78 L43.60,225.78 L43.55,225.77 L43.50,225.77 L43.45,225.76 L43.40,225.76 L43.35,225.75 L43.30,225.75 L43.25,225.74 L43.20,225.73 L43.15,225.73 L43.10,225.72 L43.05,225.71 L43.00,225.70 L42.95,225.69 L42.90,225.67 L42.85,225.66 L42.80,225.64 L42.75,225.62 L42.70,225.61 L42.65,225.58 L42.60,225.56 L42.55,225.53 L42.50,225.50 L42.45,225.46 L42.40,225.42 L42.35,225.37 L42.30,225.31 L42.25,225.24 L42.20,225.15 L42.15,225.05 L42.10,224.93 L42.05,224.78 L42.00,224.59 L41.95,224.34 L41.90,224.02 L41.85,223.59 M41.40,37.27 L41.35,131.58 L41.30,188.17 L41.25,207.03 L41.20,214.80 L41.15,218.64 L41.10,220.80 L41.05,222.13 L41.00,223.00 L40.95,223.60 L40.90,224.03 L40.85,224.35 L40.80,224.60 L40.75,224.79 L40.70,224.94 L40.65,225.07 L40.60,225.17 L40.55,225.25 L40.50,225.32 L40.45,225.38 L40.40,225.43 L40.35,225.48 L40.30,225.52 L40.25,225.55 L40.20,225.58 L40.15,225.60 L40.10,225.63 L40.05,225.65 L40.00,225.67 L39.95,225.68 L39.90,225.70 L39.85,225.71 L39.80,225.72 L39.75,225.74 L39.70,225.75 L39.65,225.76 L39.60,225.76 L39.55,225.77 L39.50,225.78 M41.90,37.47 L41.90,225.96 M50.50,41.94 L50.50,222.93 M67.10,39.99 L67.10,215.85 M91.70,61.11 L91.70,216.88 " fill="none" stroke="#f00" stroke-width="2.6" stroke-dasharray="5.6 4.1" stroke-linecap="round" stroke-linejoin="round"/>
<path d="M39.50,225.93 L39.75,225.93 L40.00,225.93 L40.25,225.92 L40.50,225.92 L40.75,225.92 L41.00,225.91 L41.25,225.90 L41.50,225.90 L41.75,225.89 L42.00,225.88 L42.05,225.88 L42.10,225.88 L42.15,225.88 L42.20,225.87 L42.25,225.87 L42.30,225.87 L42.35,225.87 L42.40,225.86 L42.45,225.86 L42.50,225.86 L42.55,225.85 L42.60,225.85 L42.65,225.85 L42.70,225.84 L42.75,225.84 L42.80,225.83 L42.85,225.83 L42.90,225.82 L42.95,225.82 L43.00,225.81 L43.05,225.80 L43.10,225.80 L43.15,225.79 L43.20,225.78 L43.25,225.77 L43.30,225.76 L43.35,225.75 L43.40,225.74 L43.45,225.73 L43.50,225.72 L43.55,225.70 L43.60,225.68 L43.65,225.67 L43.70,225.64 L43.75,225.62 L43.80,225.60 L43.85,225.57 L43.90,225.53 L43.95,225.49 L44.00,225.45 L44.05,225.38 L44.10,225.29 L44.15,225.20 L44.20,225.09 L44.25,224.96 L44.30,224.82 L44.35,224.64 L44.40,224.42 L44.45,224.15 L44.50,223.80 L44.55,223.34 L44.60,222.71 L44.65,221.81 L44.70,220.45 L44.75,218.26 L44.80,214.37 L44.85,206.52 L44.90,187.50 L44.95,130.50 L45.00,35.50 L45.05,130.45 L45.10,187.41 L45.15,206.38 L45.20,214.17 L45.25,218.02 L45.30,220.16 L45.35,221.47 L45.40,222.33 L45.45,222.91 L45.50,223.32 L45.55,223.62 L45.60,223.84 L45.65,224.01 L45.70,224.14 L45.75,224.24 L45.80,224.32 L45.85,224.38 L45.90,224.42 L45.95,224.46 L46.00,224.49 L46.05,224.51 L46.10,224.52 L46.15,224.53 L46.20,224.53 L46.25,224.54 L46.30,224.54 L46.35,224.53 L46.40,224.53 L46.45,224.52 L46.50,224.51 L46.55,224.50 L46.60,224.49 L46.65,224.47 L46.70,224.46 L46.75,224.44 L46.80,224.43 L46.85,224.41 L46.90,224.40 L46.95,224.38 L47.00,224.36 L47.05,224.34 L47.10,224.32 L47.15,224.30 L47.20,224.28 L47.25,224.26 L47.30,224.24 L47.35,224.22 L47.40,224.20 L47.45,224.18 L47.50,224.16 L47.55,224.14 L47.60,224.12 L47.65,224.10 L47.70,224.08 L47.75,224.05 L47.80,224.03 L47.85,224.01 L47.90,223.99 L47.95,223.97 L48.00,223.94 L48.25,223.83 L48.50,223.72 L48.75,223.60 L49.00,223.48 L49.25,223.37 L49.50,223.25 L49.75,223.13 L50.00,223.01 L50.25,222.89 L50.50,222.77 L50.75,222.65 L51.00,222.53 L51.25,222.41 L51.50,222.29 L51.75,222.17 L52.00,222.05 L52.25,221.93 L52.50,221.81 L52.75,221.69 L53.00,221.56 L53.25,221.44 L53.50,221.32 L53.75,221.20 L54.00,221.07 L54.25,220.94 L54.50,220.82 L54.55,220.79 L54.60,220.77 L54.65,220.74 L54.70,220.71 L54.75,220.69 L54.80,220.66 L54.85,220.63 L54.90,220.61 L54.95,220.58 L55.00,220.55 L55.05,220.53 L55.10,220.50 L55.15,220.47 L55.20,220.45 L55.25,220.42 L55.30,220.39 L55.35,220.36 L55.40,220.33 L55.45,220.30 L55.50,220.27 L55.55,220.24 L55.60,220.21 L55.65,220.18 L55.70,220.15 L55.75,220.12 L55.80,220.09 L55.85,220.05 L55.90,220.02 L55.95,219.98 L56.00,219.95 L56.05,219.91 L56.10,219.87 L56.15,219.83 L56.20,219.78 L56.25,219.74 L56.30,219.69 L56.35,219.64 L56.40,219.58 L56.45,219.52 L56.50,219.46 L56.55,219.38 L56.60,219.30 L56.65,219.21 L56.70,219.11 L56.75,218.99 L56.80,218.85 L56.85,218.68 L56.90,218.47 L56.95,218.21 L57.00,217.88 L57.05,217.45 L57.10,216.85 L57.15,216.00 L57.20,214.71 L57.25,212.63 L57.30,208.94 L57.35,201.51 L57.40,183.51 L57.45,129.54 L57.50,39.60 L57.55,129.51 L57.60,183.46 L57.65,201.44 L57.70,208.85 L57.75,212.51 L57.80,214.56 L57.85,215.83 L57.90,216.66 L57.95,217.23 L58.00,217.64 L58.05,217.95 L58.10,218.18 L58.15,218.37 L58.20,218.51 L58.25,218.63 L58.30,218.72 L58.35,218.80 L58.40,218.87 L58.45,218.93 L58.50,218.97 L58.55,219.02 L58.60,219.05 L58.65,219.08 L58.70,219.11 L58.75,219.14 L58.80,219.16 L58.85,219.18 L58.90,219.19 L58.95,219.21 L59.00,219.22 L59.05,219.24 L59.10,219.25 L59.15,219.26 L59.20,219.27 L59.25,219.27 L59.30,219.28 L59.35,219.29 L59.40,219.30 L59.45,219.30 L59.50,219.31 L59.55,219.31 L59.60,219.32 L59.65,219.32 L59.70,219.33 L59.75,219.33 L59.80,219.34 L59.85,219.34 L59.90,219.34 L59.95,219.35 L60.00,219.35 L60.05,219.35 L60.10,219.35 L60.15,219.36 L60.20,219.36 L60.25,219.36 L60.30,219.36 L60.35,219.36 L60.40,219.37 L60.45,219.37 L60.50,219.37 L60.75,219.38 L61.00,219.38 L61.25,219.39 L61.50,219.39 L61.75,219.39 L62.00,219.39 L62.25,219.40 L62.50,219.40 L62.75,219.40 L63.00,219.40 L63.25,219.40 L63.50,219.40 L63.75,219.40 L64.00,219.40 L64.25,219.40 L64.50,219.40 L64.75,219.40 L65.00,219.40 L65.25,219.40 L65.50,219.40 L65.75,219.40 L66.00,219.40 L66.25,219.40 L66.50,219.40 L66.75,219.39 L67.00,219.39 L67.25,219.39 L67.50,219.39 L67.75,219.39 L68.00,219.39 L68.25,219.39 L68.50,219.39 L68.75,219.38 L69.00,219.38 L69.25,219.38 L69.50,219.38 L69.75,219.38 L70.00,219.37 L70.25,219.37 L70.50,219.37 L70.75,219.36 L71.00,219.36 L71.25,219.36 L71.50,219.35 L71.75,219.35 L72.00,219.34 L72.25,219.34 L72.50,219.33 L72.75,219.32 L73.00,219.32 L73.25,219.31 L73.50,219.29 L73.75,219.28 L74.00,219.26 L74.25,219.25 L74.50,219.22 L74.75,219.19 L74.90,219.17 L74.95,219.16 L75.00,219.16 L75.05,219.15 L75.10,219.14 L75.15,219.13 L75.20,219.12 L75.25,219.11 L75.30,219.10 L75.35,219.09 L75.40,219.07 L75.45,219.06 L75.50,219.05 L75.55,219.03 L75.60,219.02 L75.65,219.00 L75.70,218.98 L75.75,218.96 L75.80,218.94 L75.85,218.92 L75.90,218.90 L75.95,218.87 L76.00,218.84 L76.05,218.81 L76.10,218.78 L76.15,218.74 L76.20,218.71 L76.25,218.66 L76.30,218.62 L76.35,218.57 L76.40,218.51 L76.45,218.45 L76.50,218.38 L76.55,218.31 L76.60,218.22 L76.65,218.13 L76.70,218.02 L76.75,217.90 L76.80,217.76 L76.85,217.61 L76.90,217.43 L76.95,217.22 L77.00,216.97 L77.05,216.69 L77.10,216.34 L77.15,215.93 L77.20,215.44 L77.25,214.82 L77.30,214.06 L77.35,213.08 L77.40,211.82 L77.45,210.15 L77.50,207.87 L77.55,204.66 L77.60,199.97 L77.65,192.83 L77.70,181.37 L77.75,162.19 L77.80,129.95 L77.85,84.25 L77.90,56.50 L77.95,84.25 L78.00,129.95 L78.05,162.19 L78.10,181.37 L78.15,192.82 L78.20,199.97 L78.25,204.66 L78.30,207.86 L78.35,210.14 L78.40,211.82 L78.45,213.08 L78.50,214.05 L78.55,214.82 L78.60,215.43 L78.65,215.93 L78.70,216.34 L78.75,216.68 L78.80,216.97 L78.85,217.21 L78.90,217.42 L78.95,217.60 L79.00,217.76 L79.05,217.89 L79.10,218.01 L79.15,218.12 L79.20,218.21 L79.25,218.30 L79.30,218.37 L79.35,218.44 L79.40,218.50 L79.45,218.56 L79.50,218.61 L79.55,218.65 L79.60,218.69 L79.65,218.73 L79.70,218.77 L79.75,218.80 L79.80,218.83 L79.85,218.86 L79.90,218.88 L79.95,218.90 L80.00,218.93 L80.05,218.95 L80.10,218.97 L80.15,218.98 L80.20,219.00 L80.25,219.02 L80.30,219.03 L80.35,219.04 L80.40,219.06 L80.45,219.07 L80.50,219.08 L80.55,219.09 L80.60,219.10 L80.65,219.11 L80.70,219.12 L80.75,219.13 L80.80,219.14 L80.85,219.14 L80.90,219.15 L81.00,219.17 L81.25,219.19 L81.50,219.22 L81.75,219.23 L82.00,219.25 L82.25,219.26 L82.50,219.27 L82.75,219.28 L83.00,219.29 L83.25,219.29 L83.50,219.30 L83.75,219.30 L84.00,219.30 L84.25,219.31 L84.50,219.31 L84.75,219.31 L85.00,219.31 L85.25,219.31 L85.50,219.31 L85.75,219.31 L86.00,219.32 L86.25,219.32 L86.50,219.32 L86.75,219.32 L87.00,219.31 L87.25,219.31 L87.50,219.31 L87.75,219.31 L88.00,219.31 L88.25,219.31 L88.50,219.31 L88.75,219.31 L89.00,219.31 L89.25,219.31 L89.50,219.30 L89.75,219.30 L90.00,219.30 L90.25,219.29 L90.50,219.28 L90.75,219.27 L91.00,219.26 L91.25,219.25 L91.50,219.24 L91.75,219.23 L92.00,219.22 L92.25,219.20 L92.50,219.19 L92.75,219.18 L93.00,219.17 L93.25,219.16 L93.50,219.15 L93.75,219.13 L94.00,219.12 L94.25,219.11 L94.50,219.09 L94.75,219.08 L95.00,219.07 L95.25,219.05 L95.50,219.04 L95.75,219.02 L96.00,219.01 L96.25,218.99 L96.50,218.98 L96.75,218.96 L97.00,218.94 L97.25,218.92 L97.50,218.90 L97.75,218.88 L98.00,218.86 L98.25,218.84 L98.50,218.82 L98.75,218.79 L99.00,218.77 L99.25,218.74 L99.50,218.71 L99.75,218.67 L100.00,218.64 L100.25,218.60 L100.50,218.56 L100.75,218.51 L101.00,218.46 L101.25,218.40 L101.50,218.34 L101.75,218.27 L102.00,218.18 L102.25,218.09 L102.50,217.98 L102.75,217.85 L103.00,217.69 L103.25,217.50 L103.50,217.27 L103.70,217.04 L103.75,216.97 L103.80,216.91 L103.85,216.84 L103.90,216.76 L103.95,216.68 L104.00,216.60 L104.05,216.52 L104.10,216.42 L104.15,216.33 L104.20,216.22 L104.25,216.12 L104.30,216.00 L104.35,215.88 L104.40,215.75 L104.45,215.61 L104.50,215.46 L104.55,215.31 L104.60,215.14 L104.65,214.96 L104.70,214.77 L104.75,214.56 L104.80,214.34 L104.85,214.10 L104.90,213.84 L104.95,213.55 L105.00,213.25 L105.05,212.92 L105.10,212.56 L105.15,212.16 L105.20,211.73 L105.25,211.26 L105.30,210.74 L105.35,210.16 L105.40,209.52 L105.45,208.82 L105.50,208.03 L105.55,207.14 L105.60,206.15 L105.65,205.03 L105.70,203.76 L105.75,202.32 L105.80,200.66 L105.85,198.77 L105.90,196.57 L105.95,194.03 L106.00,191.05 L106.05,187.56 L106.10,183.44 L106.15,178.56 L106.20,172.76 L106.25,165.86 L106.30,157.65 L106.35,147.97 L106.40,136.70 L106.45,123.92 L106.50,110.08 L106.55,96.16 L106.60,83.82 L106.65,75.15 L106.70,72.00 L106.75,75.14 L106.80,83.81 L106.85,96.15 L106.90,110.06 L106.95,123.90 L107.00,136.67 L107.05,147.94 L107.10,157.62 L107.15,165.83 L107.20,172.73 L107.25,178.52 L107.30,183.40 L107.35,187.51 L107.40,191.00 L107.45,193.97 L107.50,196.51 L107.55,198.70 L107.60,200.60 L107.65,202.24 L107.70,203.68 L107.75,204.95 L107.80,206.07 L107.85,207.06 L107.90,207.94 L107.95,208.72 L108.00,209.43 L108.05,210.06 L108.10,210.63 L108.15,211.15 L108.20,211.62 L108.25,212.05 L108.30,212.44 L108.35,212.79 L108.40,213.12 L108.45,213.42 L108.50,213.70 L108.55,213.96 L108.60,214.19 L108.65,214.41 L108.70,214.61 L108.75,214.80 L108.80,214.98 L108.85,215.14 L108.90,215.30 L108.95,215.44 L109.00,215.58 L109.05,215.70 L109.10,215.82 L109.15,215.93 L109.20,216.04 L109.25,216.13 L109.30,216.23 L109.35,216.32 L109.40,216.40 L109.45,216.48 L109.50,216.55 L109.55,216.62 L109.60,216.69 L109.65,216.75 L109.70,216.81 L109.75,216.87 L110.00,217.12 L110.25,217.31 L110.50,217.47 L110.75,217.59 L111.00,217.70 L111.25,217.78 L111.50,217.86 L111.75,217.92 L112.00,217.97 L112.25,218.01 L112.50,218.04 L112.75,218.07 L113.00,218.10 L113.25,218.12 L113.50,218.14 L113.75,218.15 L114.00,218.16 L114.25,218.17 L114.50,218.18 L114.75,218.19 L115.00,218.19 L115.25,218.20 L115.50,218.20 L115.75,218.20 L116.00,218.20 L116.25,218.20 L116.50,218.20 L116.75,218.20 L117.00,218.19 L117.25,218.19 L117.50,218.19 L117.75,218.18 L118.00,218.18 L118.25,218.17 L118.50,218.16 L118.75,218.16 L119.00,218.15 L119.25,218.14 L119.50,218.14 L119.75,218.13 L120.00,218.12 L120.25,218.11 L120.50,218.10 L120.75,218.09 L121.00,218.09 L121.25,218.08 L121.50,218.07 L121.75,218.06 L122.00,218.05 L122.25,218.03 L122.50,218.02 L122.75,218.01 L123.00,218.00 L123.25,217.99 L123.50,217.98 L123.75,217.97 L124.00,217.95 L124.25,217.94 L124.50,217.93 L124.75,217.91 L125.00,217.90 L125.25,217.90 L125.50,217.89 L125.75,217.89 L126.00,217.88 L126.25,217.88 L126.50,217.87 L126.75,217.86 L127.00,217.86 L127.25,217.85 L127.50,217.84 L127.75,217.84 L128.00,217.83 L128.25,217.82 L128.50,217.81 L128.75,217.80 L129.00,217.79 L129.25,217.78 L129.50,217.76 L129.75,217.75 L130.00,217.74 L130.25,217.72 L130.50,217.70 L130.75,217.69 L131.00,217.67 L131.25,217.65 L131.50,217.63 L131.75,217.61 L132.00,217.58 L132.25,217.56 L132.50,217.53 L132.75,217.50 L133.00,217.47 L133.25,217.43 L133.50,217.40 L133.75,217.36 L134.00,217.31 L134.25,217.27 L134.50,217.22 L134.75,217.16 L135.00,217.10 L135.25,217.03 L135.50,216.96 L135.75,216.88 L136.00,216.79 L136.25,216.69 L136.50,216.58 L136.75,216.46 L137.00,216.32 L137.25,216.17 L137.50,215.99 L137.75,215.80 L138.00,215.57 L138.25,215.31 L138.50,215.02 L138.75,214.67 L139.00,214.26 L139.25,213.78 L139.50,213.21 L139.75,212.52 L140.00,211.68 L140.25,210.64 L140.30,210.40 L140.35,210.15 L140.40,209.89 L140.45,209.62 L140.50,209.33 L140.55,209.04 L140.60,208.72 L140.65,208.39 L140.70,208.04 L140.75,207.68 L140.80,207.29 L140.85,206.89 L140.90,206.46 L140.95,206.01 L141.00,205.53 L141.05,205.03 L141.10,204.49 L141.15,203.93 L141.20,203.33 L141.25,202.70 L141.30,202.02 L141.35,201.30 L141.40,200.54 L141.45,199.73 L141.50,198.86 L141.55,197.94 L141.60,196.95 L141.65,195.89 L141.70,194.76 L141.75,193.56 L141.80,192.26 L141.85,190.87 L141.90,189.38 L141.95,187.78 L142.00,186.05 L142.05,184.20 L142.10,182.21 L142.15,180.07 L142.20,177.76 L142.25,175.28 L142.30,172.61 L142.35,169.75 L142.40,166.68 L142.45,163.40 L142.50,159.90 L142.55,156.17 L142.60,152.22 L142.65,148.07 L142.70,143.73 L142.75,139.24 L142.80,134.63 L142.85,129.98 L142.90,125.35 L142.95,120.84 L143.00,116.57 L143.05,112.65 L143.10,109.21 L143.15,106.37 L143.20,104.25 L143.25,102.94 L143.30,102.50 L143.35,102.94 L143.40,104.25 L143.45,106.37 L143.50,109.21 L143.55,112.65 L143.60,116.57 L143.65,120.84 L143.70,125.35 L143.75,129.98 L143.80,134.63 L143.85,139.24 L143.90,143.73 L143.95,148.07 L144.00,152.22 L144.05,156.17 L144.10,159.90 L144.15,163.40 L144.20,166.68 L144.25,169.75 L144.30,172.61 L144.35,175.28 L144.40,177.76 L144.45,180.07 L144.50,182.21 L144.55,184.20 L144.60,186.05 L144.65,187.78 L144.70,189.38 L144.75,190.87 L144.80,192.26 L144.85,193.56 L144.90,194.77 L144.95,195.89 L145.00,196.95 L145.05,197.94 L145.10,198.86 L145.15,199.73 L145.20,200.54 L145.25,201.30 L145.30,202.02 L145.35,202.70 L145.40,203.33 L145.45,203.93 L145.50,204.50 L145.55,205.03 L145.60,205.53 L145.65,206.01 L145.70,206.46 L145.75,206.89 L145.80,207.29 L145.85,207.68 L145.90,208.04 L145.95,208.39 L146.00,208.72 L146.05,209.04 L146.10,209.34 L146.15,209.62 L146.20,209.89 L146.25,210.15 L146.30,210.40 L146.50,211.29 L146.75,212.20 L147.00,212.95 L147.25,213.56 L147.50,214.08 L147.75,214.51 L148.00,214.88 L148.25,215.20 L148.50,215.47 L148.75,215.71 L149.00,215.92 L149.25,216.10 L149.50,216.26 L149.75,216.41 L150.00,216.53 L150.25,216.65 L150.50,216.75 L150.75,216.84 L151.00,216.93 L151.25,217.00 L151.50,217.07 L151.75,217.13 L152.00,217.19 L152.25,217.24 L152.50,217.29 L152.75,217.33 L153.00,217.38 L153.25,217.41 L153.50,217.45 L153.75,217.48 L154.00,217.51 L154.25,217.54 L154.50,217.56 L154.75,217.59 L155.00,217.61 L155.25,217.63 L155.50,217.65 L155.75,217.66 L156.00,217.68 L156.25,217.69 L156.50,217.71 L156.75,217.72 L157.00,217.73 L157.25,217.74 L157.50,217.76 L157.75,217.76 L158.00,217.77 L158.25,217.78 L158.50,217.79 L158.75,217.80 L159.00,217.80 L159.25,217.81 L159.50,217.81 L159.75,217.82 L160.00,217.82 L160.25,217.82 L160.50,217.83 L160.75,217.83 L161.00,217.83 L161.25,217.83 L161.50,217.83 L161.75,217.83 L162.00,217.83 L162.25,217.83 L162.50,217.83 L162.75,217.83 L163.00,217.83 L163.25,217.83 L163.50,217.82 L163.75,217.82 L164.00,217.82 L164.25,217.81 L164.50,217.81 L164.75,217.81 L165.00,217.80 L165.25,217.79 L165.50,217.78 L165.75,217.77 L166.00,217.76 L166.25,217.75 L166.50,217.74 L166.75,217.73 L167.00,217.71 L167.25,217.70 L167.50,217.68 L167.75,217.67 L168.00,217.66 L168.25,217.64 L168.50,217.62 L168.75,217.61 L169.00,217.59 L169.25,217.57 L169.50,217.55 L169.75,217.53 L170.00,217.51 L170.25,217.48 L170.50,217.46 L170.75,217.44 L171.00,217.41 L171.25,217.38 L171.50,217.36 L171.75,217.33 L172.00,217.30 L172.25,217.26 L172.50,217.23 L172.75,217.19 L173.00,217.16 L173.25,217.12 L173.50,217.08 L173.75,217.03 L174.00,216.99 L174.25,216.94 L174.50,216.89 L174.75,216.83 L175.00,216.78 L175.25,216.72 L175.50,216.65 L175.75,216.58 L176.00,216.51 L176.25,216.43 L176.50,216.35 L176.75,216.26 L177.00,216.17 L177.25,216.07 L177.50,215.96 L177.75,215.84 L178.00,215.72 L178.25,215.59 L178.50,215.44 L178.75,215.28 L179.00,215.11 L179.25,214.93 L179.50,214.72 L179.75,214.50 L180.00,214.26 L180.25,213.99 L180.50,213.70 L180.75,213.37 L181.00,213.01 L181.25,212.61 L181.50,212.16 L181.75,211.66 L182.00,211.10 L182.25,210.46 L182.50,209.73 L182.75,208.90 L183.00,207.95 L183.25,206.86 L183.50,205.59 L183.75,204.11 L184.00,202.37 L184.25,200.32 L184.40,198.91 L184.45,198.41 L184.50,197.89 L184.55,197.35 L184.60,196.79 L184.65,196.22 L184.70,195.62 L184.75,195.00 L184.80,194.35 L184.85,193.69 L184.90,193.00 L184.95,192.28 L185.00,191.54 L185.05,190.77 L185.10,189.97 L185.15,189.14 L185.20,188.28 L185.25,187.39 L185.30,186.47 L185.35,185.52 L185.40,184.53 L185.45,183.51 L185.50,182.45 L185.55,181.35 L185.60,180.22 L185.65,179.05 L185.70,177.84 L185.75,176.59 L185.80,175.30 L185.85,173.97 L185.90,172.61 L185.95,171.21 L186.00,169.77 L186.05,168.29 L186.10,166.78 L186.15,165.24 L186.20,163.66 L186.25,162.06 L186.30,160.44 L186.35,158.80 L186.40,157.15 L186.45,155.49 L186.50,153.83 L186.55,152.18 L186.60,150.54 L186.65,148.93 L186.70,147.34 L186.75,145.80 L186.80,144.32 L186.85,142.90 L186.90,141.55 L186.95,140.29 L187.00,139.12 L187.05,138.06 L187.10,137.12 L187.15,136.31 L187.20,135.63 L187.25,135.10 L187.30,134.71 L187.35,134.48 L187.40,134.40 L187.45,134.48 L187.50,134.71 L187.55,135.09 L187.60,135.63 L187.65,136.30 L187.70,137.11 L187.75,138.05 L187.80,139.11 L187.85,140.27 L187.90,141.53 L187.95,142.88 L188.00,144.30 L188.05,145.79 L188.10,147.32 L188.15,148.90 L188.20,150.52 L188.25,152.16 L188.30,153.81 L188.35,155.47 L188.40,157.12 L188.45,158.77 L188.50,160.41 L188.55,162.03 L188.60,163.63 L188.65,165.20 L188.70,166.74 L188.75,168.25 L188.80,169.72 L188.85,171.16 L188.90,172.56 L188.95,173.93 L189.00,175.25 L189.05,176.54 L189.10,177.79 L189.15,179.00 L189.20,180.17 L189.25,181.30 L189.30,182.39 L189.35,183.45 L189.40,184.47 L189.45,185.46 L189.50,186.41 L189.55,187.33 L189.60,188.22 L189.65,189.07 L189.70,189.90 L189.75,190.70 L189.80,191.46 L189.85,192.20 L189.90,192.92 L189.95,193.61 L190.00,194.27 L190.05,194.92 L190.10,195.54 L190.15,196.13 L190.20,196.71 L190.25,197.27 L190.30,197.80 L190.35,198.32 L190.40,198.82 L190.50,199.77 L190.75,201.89 L191.00,203.67 L191.25,205.19 L191.50,206.50 L191.75,207.62 L192.00,208.59 L192.25,209.43 L192.50,210.17 L192.75,210.81 L193.00,211.38 L193.25,211.89 L193.50,212.34 L193.75,212.74 L194.00,213.10 L194.25,213.43 L194.50,213.72 L194.75,213.98 L195.00,214.22 L195.25,214.44 L195.50,214.64 L195.75,214.82 L196.00,214.99 L196.25,215.14 L196.50,215.28 L196.75,215.41 L197.00,215.52 L197.25,215.63 L197.50,215.74 L197.75,215.83 L198.00,215.92 L198.25,216.00 L198.50,216.07 L198.75,216.14 L199.00,216.21 L199.25,216.27 L199.50,216.33 L199.75,216.38 L200.00,216.43 L200.25,216.47 L200.50,216.52 L200.75,216.56 L201.00,216.59 L201.25,216.63 L201.50,216.66 L201.75,216.69 L202.00,216.72 L202.25,216.75 L202.50,216.77 L202.75,216.80 L203.00,216.82 L203.25,216.84 L203.50,216.86 L203.75,216.88 L204.00,216.89 L204.25,216.91 L204.50,216.92 L204.75,216.93 L205.00,216.95 L205.25,216.96 L205.50,216.97 L205.75,216.98 L206.00,216.99 L206.25,216.99 L206.50,217.00 L206.75,217.00 L207.00,217.01 L207.25,217.01 L207.50,217.02 L207.75,217.02 L208.00,217.02 L208.25,217.02 L208.50,217.02 L208.75,217.02 L209.00,217.02 L209.25,217.02 L209.50,217.02 L209.75,217.02 L210.00,217.02 L210.25,217.01 L210.50,217.01 L210.75,217.01 L211.00,217.00 L211.25,217.00 L211.50,216.99 L211.75,216.99 L212.00,216.98 L212.25,216.98 L212.50,216.97 L212.75,216.96 L213.00,216.96 L213.25,216.95 L213.50,216.94 L213.75,216.93 L214.00,216.92 L214.25,216.91 L214.50,216.90 L214.75,216.89 L215.00,216.87 L215.25,216.86 L215.50,216.85 L215.75,216.83 L216.00,216.82 L216.25,216.80 L216.50,216.78 L216.75,216.76 L217.00,216.75 L217.25,216.73 L217.50,216.71 L217.75,216.69 L218.00,216.66 L218.25,216.64 L218.50,216.62 L218.75,216.59 L219.00,216.56 L219.25,216.54 L219.50,216.51 L219.75,216.48 L220.00,216.45 L220.25,216.41 L220.50,216.38 L220.75,216.34 L221.00,216.31 L221.25,216.27 L221.50,216.23 L221.75,216.19 L222.00,216.14 L222.25,216.10 L222.50,216.05 L222.75,216.00 L223.00,215.94 L223.25,215.89 L223.50,215.83 L223.75,215.77 L224.00,215.71 L224.25,215.64 L224.50,215.57 L224.75,215.49 L225.00,215.42 L225.25,215.33 L225.50,215.25 L225.75,215.16 L226.00,215.06 L226.25,214.96 L226.50,214.86 L226.75,214.74 L227.00,214.62 L227.25,214.50 L227.50,214.37 L227.75,214.22 L228.00,214.07 L228.25,213.91 L228.50,213.75 L228.75,213.56 L229.00,213.37 L229.25,213.17 L229.50,212.95 L229.75,212.71 L230.00,212.46 L230.25,212.19 L230.50,211.90 L230.75,211.59 L231.00,211.26 L231.25,210.89 L231.50,210.50 L231.75,210.08 L232.00,209.62 L232.25,209.12 L232.50,208.58 L232.75,207.99 L233.00,207.34 L233.25,206.64 L233.50,205.86 L233.75,205.02 L234.00,204.09 L234.25,203.06 L234.50,201.94 L234.75,200.69 L235.00,199.32 L235.25,197.81 L235.50,196.14 L235.75,194.30 L236.00,192.27 L236.25,190.05 L236.40,188.62 L236.45,188.13 L236.50,187.63 L236.55,187.12 L236.60,186.60 L236.65,186.07 L236.70,185.54 L236.75,185.00 L236.80,184.45 L236.85,183.89 L236.90,183.33 L236.95,182.76 L237.00,182.18 L237.05,181.59 L237.10,181.00 L237.15,180.40 L237.20,179.80 L237.25,179.19 L237.30,178.57 L237.35,177.95 L237.40,177.33 L237.45,176.70 L237.50,176.07 L237.55,175.44 L237.60,174.80 L237.65,174.16 L237.70,173.53 L237.75,172.89 L237.80,172.26 L237.85,171.62 L237.90,170.99 L237.95,170.37 L238.00,169.75 L238.05,169.13 L238.10,168.53 L238.15,167.93 L238.20,167.34 L238.25,166.76 L238.30,166.19 L238.35,165.64 L238.40,165.10 L238.45,164.58 L238.50,164.07 L238.55,163.59 L238.60,163.12 L238.65,162.67 L238.70,162.25 L238.75,161.85 L238.80,161.47 L238.85,161.12 L238.90,160.80 L238.95,160.50 L239.00,160.23 L239.05,159.99 L239.10,159.79 L239.15,159.61 L239.20,159.46 L239.25,159.35 L239.30,159.27 L239.35,159.22 L239.40,159.20 L239.45,159.22 L239.50,159.26 L239.55,159.35 L239.60,159.46 L239.65,159.61 L239.70,159.78 L239.75,159.99 L239.80,160.23 L239.85,160.50 L239.90,160.79 L239.95,161.11 L240.00,161.46 L240.05,161.84 L240.10,162.24 L240.15,162.66 L240.20,163.11 L240.25,163.58 L240.30,164.06 L240.35,164.57 L240.40,165.09 L240.45,165.63 L240.50,166.18 L240.55,166.75 L240.60,167.32 L240.65,167.91 L240.70,168.51 L240.75,169.12 L240.80,169.73 L240.85,170.35 L240.90,170.98 L240.95,171.60 L241.00,172.24 L241.05,172.87 L241.10,173.51 L241.15,174.14 L241.20,174.78 L241.25,175.41 L241.30,176.05 L241.35,176.68 L241.40,177.30 L241.45,177.93 L241.50,178.55 L241.55,179.16 L241.60,179.77 L241.65,180.38 L241.70,180.97 L241.75,181.57 L241.80,182.15 L241.85,182.73 L241.90,183.30 L241.95,183.86 L242.00,184.42 L242.05,184.97 L242.10,185.51 L242.15,186.04 L242.20,186.57 L242.25,187.08 L242.30,187.59 L242.35,188.09 L242.40,188.58 L242.50,189.54 L242.75,191.80 L243.00,193.86 L243.25,195.74 L243.50,197.44 L243.75,198.98 L244.00,200.37 L244.25,201.64 L244.50,202.78 L244.75,203.82 L245.00,204.77 L245.25,205.63 L245.50,206.41 L245.75,207.13 L246.00,207.78 L246.25,208.38 L246.50,208.93 L246.75,209.43 L247.00,209.90 L247.25,210.32 L247.50,210.72 L247.75,211.08 L248.00,211.42 L248.25,211.73 L248.50,212.02 L248.75,212.29 L249.00,212.54 L249.25,212.78 L249.50,213.00 L249.75,213.20 L250.00,213.39 L250.25,213.57 L250.50,213.74 L250.75,213.90 L251.00,214.04 L251.25,214.18 L251.50,214.32 L251.75,214.44 L252.00,214.56 L252.25,214.66 L252.50,214.77 L252.75,214.87 L253.00,214.96 L253.25,215.05 L253.50,215.13 L253.75,215.21 L254.00,215.28 L254.25,215.35 L254.50,215.42 L254.75,215.48 L255.00,215.54 L255.25,215.60 L255.50,215.66 L255.75,215.71 L256.00,215.76 L256.25,215.80 L256.50,215.85 L256.75,215.89 L257.00,215.93 L257.25,215.97 L257.50,216.00 L257.75,216.04 L258.00,216.07 L258.25,216.10 L258.50,216.13 L258.75,216.16 L259.00,216.18 L259.25,216.21 L259.50,216.23 L259.75,216.26 L260.00,216.28 L260.25,216.30 L260.50,216.32 L260.75,216.33 L261.00,216.35 L261.25,216.37 L261.50,216.38 L261.75,216.39 L262.00,216.41 L262.25,216.42 L262.50,216.43 L262.75,216.44 L263.00,216.45 L263.25,216.46 L263.50,216.47 L263.75,216.47 L264.00,216.48 L264.25,216.48 L264.50,216.49 L264.75,216.49 L265.00,216.50 L265.25,216.50 L265.50,216.50 L265.75,216.50 L266.00,216.49 L266.25,216.48 L266.50,216.47 L266.75,216.46 L267.00,216.45 L267.25,216.44 L267.50,216.43 L267.75,216.42 L268.00,216.40 L268.25,216.39 L268.50,216.37 L268.75,216.36 L269.00,216.34 L269.25,216.33 L269.50,216.31 L269.75,216.29 L270.00,216.27 L270.25,216.25 L270.50,216.23 L270.75,216.21 L271.00,216.19 L271.25,216.17 L271.50,216.15 L271.75,216.12 L272.00,216.10 L272.25,216.07 L272.50,216.04 L272.75,216.02 L273.00,215.99 L273.25,215.96 L273.50,215.93 L273.75,215.90 L274.00,215.87 L274.25,215.83 L274.50,215.80 L274.75,215.76 L275.00,215.73 L275.25,215.69 L275.50,215.65 L275.75,215.61 L276.00,215.57 L276.25,215.53 L276.50,215.48 L276.75,215.44 L277.00,215.39 L277.25,215.34 L277.50,215.29 L277.75,215.24 L278.00,215.19 L278.25,215.13 L278.50,215.07 L278.75,215.01 L279.00,214.95 L279.25,214.89 L279.50,214.82 L279.75,214.76 L280.00,214.69 L280.25,214.61 L280.50,214.54 L280.75,214.46 L281.00,214.38 L281.25,214.29 L281.50,214.21 L281.75,214.12 L282.00,214.02 L282.25,213.92 L282.50,213.82 L282.75,213.72 L283.00,213.61 L283.25,213.49 L283.50,213.37 L283.75,213.25 L284.00,213.12 L284.25,212.98 L284.50,212.84 L284.75,212.69 L285.00,212.54 L285.25,212.38 L285.50,212.21 L285.75,212.03 L286.00,211.84 L286.25,211.65 L286.50,211.45 L286.75,211.23 L287.00,211.01 L287.25,210.77 L287.50,210.52 L287.75,210.26 L288.00,209.99 L288.25,209.70 L288.50,209.39 L288.75,209.07 L289.00,208.73 L289.25,208.37 L289.50,207.99 L289.75,207.59 L290.00,207.16 L290.25,206.72 L290.50,206.24 L290.75,205.74 L291.00,205.20 L291.25,204.64 L291.50,204.04 L291.75,203.41 L292.00,202.74 L292.25,202.02 L292.50,201.27 L292.75,200.47 L293.00,199.63 L293.25,198.73 L293.50,197.79 L293.75,196.80 L294.00,195.76 L294.25,194.67 L294.50,193.53 L294.75,192.34 L295.00,191.12 L295.25,189.85 L295.50,188.56 L295.75,187.24 L295.80,186.98 L295.85,186.71 L295.90,186.45 L295.95,186.18 L296.00,185.92 L296.05,185.66 L296.10,185.39 L296.15,185.13 L296.20,184.87 L296.25,184.60 L296.30,184.34 L296.35,184.08 L296.40,183.82 L296.45,183.57 L296.50,183.31 L296.55,183.06 L296.60,182.80 L296.65,182.55 L296.70,182.31 L296.75,182.06 L296.80,181.82 L296.85,181.58 L296.90,181.34 L296.95,181.11 L297.00,180.88 L297.05,180.65 L297.10,180.42 L297.15,180.20 L297.20,179.99 L297.25,179.78 L297.30,179.57 L297.35,179.37 L297.40,179.17 L297.45,178.97 L297.50,178.79 L297.55,178.60 L297.60,178.43 L297.65,178.26 L297.70,178.09 L297.75,177.93 L297.80,177.78 L297.85,177.63 L297.90,177.49 L297.95,177.35 L298.00,177.23 L298.05,177.11 L298.10,176.99 L298.15,176.89 L298.20,176.79 L298.25,176.70 L298.30,176.61 L298.35,176.54 L298.40,176.47 L298.45,176.41 L298.50,176.35 L298.55,176.31 L298.60,176.27 L298.65,176.24 L298.70,176.22 L298.75,176.21 L298.80,176.20 L298.85,176.20 L298.90,176.21 L298.95,176.23 L299.00,176.26 L299.05,176.29 L299.10,176.34 L299.15,176.39 L299.20,176.45 L299.25,176.51 L299.30,176.59 L299.35,176.67 L299.40,176.76 L299.45,176.85 L299.50,176.96 L299.55,177.07 L299.60,177.19 L299.65,177.31 L299.70,177.44 L299.75,177.58 L299.80,177.72 L299.85,177.88 L299.90,178.03 L299.95,178.20 L300.00,178.36 L300.05,178.54 L300.10,178.72 L300.15,178.90 L300.20,179.10 L300.25,179.29 L300.30,179.49 L300.35,179.70 L300.40,179.90 L300.45,180.12 L300.50,180.34 L300.55,180.56 L300.60,180.78 L300.65,181.01 L300.70,181.24 L300.75,181.48 L300.80,181.71 L300.85,181.95 L300.90,182.20 L300.95,182.44 L301.00,182.69 L301.05,182.94 L301.10,183.19 L301.15,183.44 L301.20,183.70 L301.25,183.96 L301.30,184.21 L301.35,184.47 L301.40,184.73 L301.45,184.99 L301.50,185.25 L301.55,185.51 L301.60,185.77 L301.65,186.04 L301.70,186.30 L301.75,186.56 L301.80,186.82 L302.00,187.87 L302.25,189.16 L302.50,190.42 L302.75,191.65 L303.00,192.84 L303.25,193.99 L303.50,195.09 L303.75,196.13 L304.00,197.13 L304.25,198.08 L304.50,198.98 L304.75,199.83 L305.00,200.63 L305.25,201.39 L305.50,202.11 L305.75,202.78 L306.00,203.42 L306.25,204.02 L306.50,204.58 L306.75,205.12 L307.00,205.62 L307.25,206.09 L307.50,206.54 L307.75,206.96 L308.00,207.36 L308.25,207.73 L308.50,208.09 L308.75,208.42 L309.00,208.74 L309.25,209.04 L309.50,209.32 L309.75,209.59 L310.00,209.84 L310.25,210.08 L310.50,210.31 L310.75,210.53 L311.00,210.74 L311.25,210.93 L311.50,211.12 L311.75,211.29 L312.00,211.46 L312.25,211.62 L312.50,211.78 L312.75,211.92 L313.00,212.06 L313.25,212.19 L313.50,212.32 L313.75,212.44 L314.00,212.55 L314.25,212.66 L314.50,212.77 L314.75,212.87 L315.00,212.96 L315.25,213.06 L315.50,213.14 L315.75,213.23 L316.00,213.31 L316.25,213.39 L316.50,213.46 L316.75,213.53 L317.00,213.60 L317.25,213.66 L317.50,213.73 L317.75,213.79 L318.00,213.84 L318.25,213.90 L318.50,213.95 L318.75,214.00 L319.00,214.05 L319.25,214.10 L319.50,214.15 L319.75,214.19 L320.00,214.23 L320.25,214.27 L320.50,214.31 L320.75,214.35 L321.00,214.39 L321.25,214.42 L321.50,214.45 L321.75,214.49 L322.00,214.52 L322.25,214.55 L322.50,214.58 L322.75,214.60 L323.00,214.63 L323.25,214.66 L323.50,214.68 L323.75,214.70 L324.00,214.73 L324.25,214.75 L324.50,214.77 L324.75,214.79 L325.00,214.81 L325.25,214.83 L325.50,214.85 L325.75,214.86 L326.00,214.88 L326.25,214.90 L326.50,214.91 L326.75,214.93 L327.00,214.94 L327.25,214.96 L327.50,214.97 L327.75,214.98 L328.00,215.00 L328.25,215.01 L328.50,215.02 L328.75,215.03 L329.00,215.04 L329.25,215.05 L329.50,215.06 L329.75,215.07 L330.00,215.08 L330.25,215.09 L330.50,215.10 L330.75,215.10 L331.00,215.11 L331.25,215.12 L331.50,215.12 L331.75,215.13 L332.00,215.14 L332.25,215.14 L332.50,215.15 L332.75,215.15 L333.00,215.16 L333.25,215.16 L333.50,215.17 L333.75,215.17 L334.00,215.18 L334.25,215.18 L334.50,215.18 L334.75,215.19 L335.00,215.19 L335.25,215.19 L335.50,215.20 L335.75,215.20 L336.00,215.20" fill="none" stroke="#00f" stroke-width="1.3" stroke-linejoin="round"/>
<text transform="translate(12.60,193.30) scale(0.893,1.000)" text-anchor="middle" font-size="15.40">O</text><text transform="translate(22.90,193.30) scale(0.930,1.000)" text-anchor="middle" font-size="15.40" style="stroke:#000;stroke-width:0.35px">.</text><text transform="translate(32.85,193.30) scale(0.930,1.000)" text-anchor="middle" font-size="15.40">2</text><text transform="translate(12.60,155.10) scale(0.893,1.000)" text-anchor="middle" font-size="15.40">O</text><text transform="translate(22.90,155.10) scale(0.930,1.000)" text-anchor="middle" font-size="15.40" style="stroke:#000;stroke-width:0.35px">.</text><text transform="translate(32.85,155.10) scale(0.930,1.000)" text-anchor="middle" font-size="15.40">4</text><text transform="translate(12.60,116.90) scale(0.893,1.000)" text-anchor="middle" font-size="15.40">O</text><text transform="translate(22.90,116.90) scale(0.930,1.000)" text-anchor="middle" font-size="15.40" style="stroke:#000;stroke-width:0.35px">.</text><text transform="translate(32.85,116.90) scale(0.930,1.000)" text-anchor="middle" font-size="15.40">6</text><text transform="translate(12.60,78.70) scale(0.893,1.000)" text-anchor="middle" font-size="15.40">O</text><text transform="translate(22.90,78.70) scale(0.930,1.000)" text-anchor="middle" font-size="15.40" style="stroke:#000;stroke-width:0.35px">.</text><text transform="translate(32.85,78.70) scale(0.930,1.000)" text-anchor="middle" font-size="15.40">8</text><text transform="translate(33.16,40.50) scale(0.930,1.000)" text-anchor="middle" font-size="15.40">1</text><text transform="translate(105.16,240.80) scale(0.930,1.000)" text-anchor="middle" font-size="15.40">1</text><text transform="translate(171.10,240.80) scale(0.930,1.000)" text-anchor="middle" font-size="15.40">2</text><text transform="translate(236.90,240.80) scale(0.930,1.000)" text-anchor="middle" font-size="15.40">3</text><text transform="translate(302.70,240.80) scale(0.930,1.000)" text-anchor="middle" font-size="15.40">4</text><text transform="translate(35.64,16.00) scale(1.080,1.000)" text-anchor="middle" font-size="15.00" font-style="italic">P</text><text transform="translate(44.65,18.70) scale(1.100,1.000)" text-anchor="middle" font-size="11.50" font-style="italic">G</text><text transform="translate(359.53,231.10) scale(1.260,1.000)" text-anchor="middle" font-size="14.00" font-style="italic">m</text><text transform="translate(367.20,224.30) scale(1.000,1.000)" text-anchor="middle" font-size="10.60">2</text><text transform="translate(125.47,49.00) scale(1.100,0.880)" text-anchor="middle" font-size="15.70" font-style="italic">b</text><text transform="translate(134.55,49.90) scale(0.856,1.000)" text-anchor="middle" font-size="15.40">=</text><text transform="translate(144.51,49.00) scale(0.930,1.000)" text-anchor="middle" font-size="15.40">1</text><text transform="translate(154.85,49.00) scale(0.930,1.000)" text-anchor="middle" font-size="15.40" style="stroke:#000;stroke-width:0.35px">,</text><text transform="translate(165.33,49.00) scale(0.930,1.000)" text-anchor="middle" font-size="15.40" font-style="italic">v</text><text transform="translate(175.40,49.90) scale(0.856,1.000)" text-anchor="middle" font-size="15.40">=</text><text transform="translate(185.35,49.00) scale(0.930,1.000)" text-anchor="middle" font-size="15.40">2</text><text transform="translate(195.70,49.00) scale(0.930,1.000)" text-anchor="middle" font-size="15.40" style="stroke:#000;stroke-width:0.35px">,</text><text transform="translate(215.15,49.90) scale(0.856,1.000)" text-anchor="middle" font-size="15.40">=</text><text transform="translate(225.00,49.00) scale(0.893,1.000)" text-anchor="middle" font-size="15.40">O</text><text transform="translate(235.20,49.00) scale(0.930,1.000)" text-anchor="middle" font-size="15.40" style="stroke:#000;stroke-width:0.35px">,</text><text transform="translate(262.50,49.90) scale(0.856,1.000)" text-anchor="middle" font-size="15.40">=</text><text transform="translate(272.55,49.00) scale(0.930,1.000)" text-anchor="middle" font-size="15.40">5</text><text transform="translate(283.15,49.00) scale(0.893,1.000)" text-anchor="middle" font-size="15.40">O</text><text transform="translate(205.88,48.80) scale(1.100,1.000)" text-anchor="middle" font-size="13.80" font-style="italic">β</text><text transform="translate(244.99,48.90) scale(1.000,1.000)" text-anchor="middle" font-size="14.30" font-style="italic">δ</text><text transform="translate(253.75,52.10) scale(0.893,1.000)" text-anchor="middle" font-size="11.80">O</text>
</svg>
</body></html>
